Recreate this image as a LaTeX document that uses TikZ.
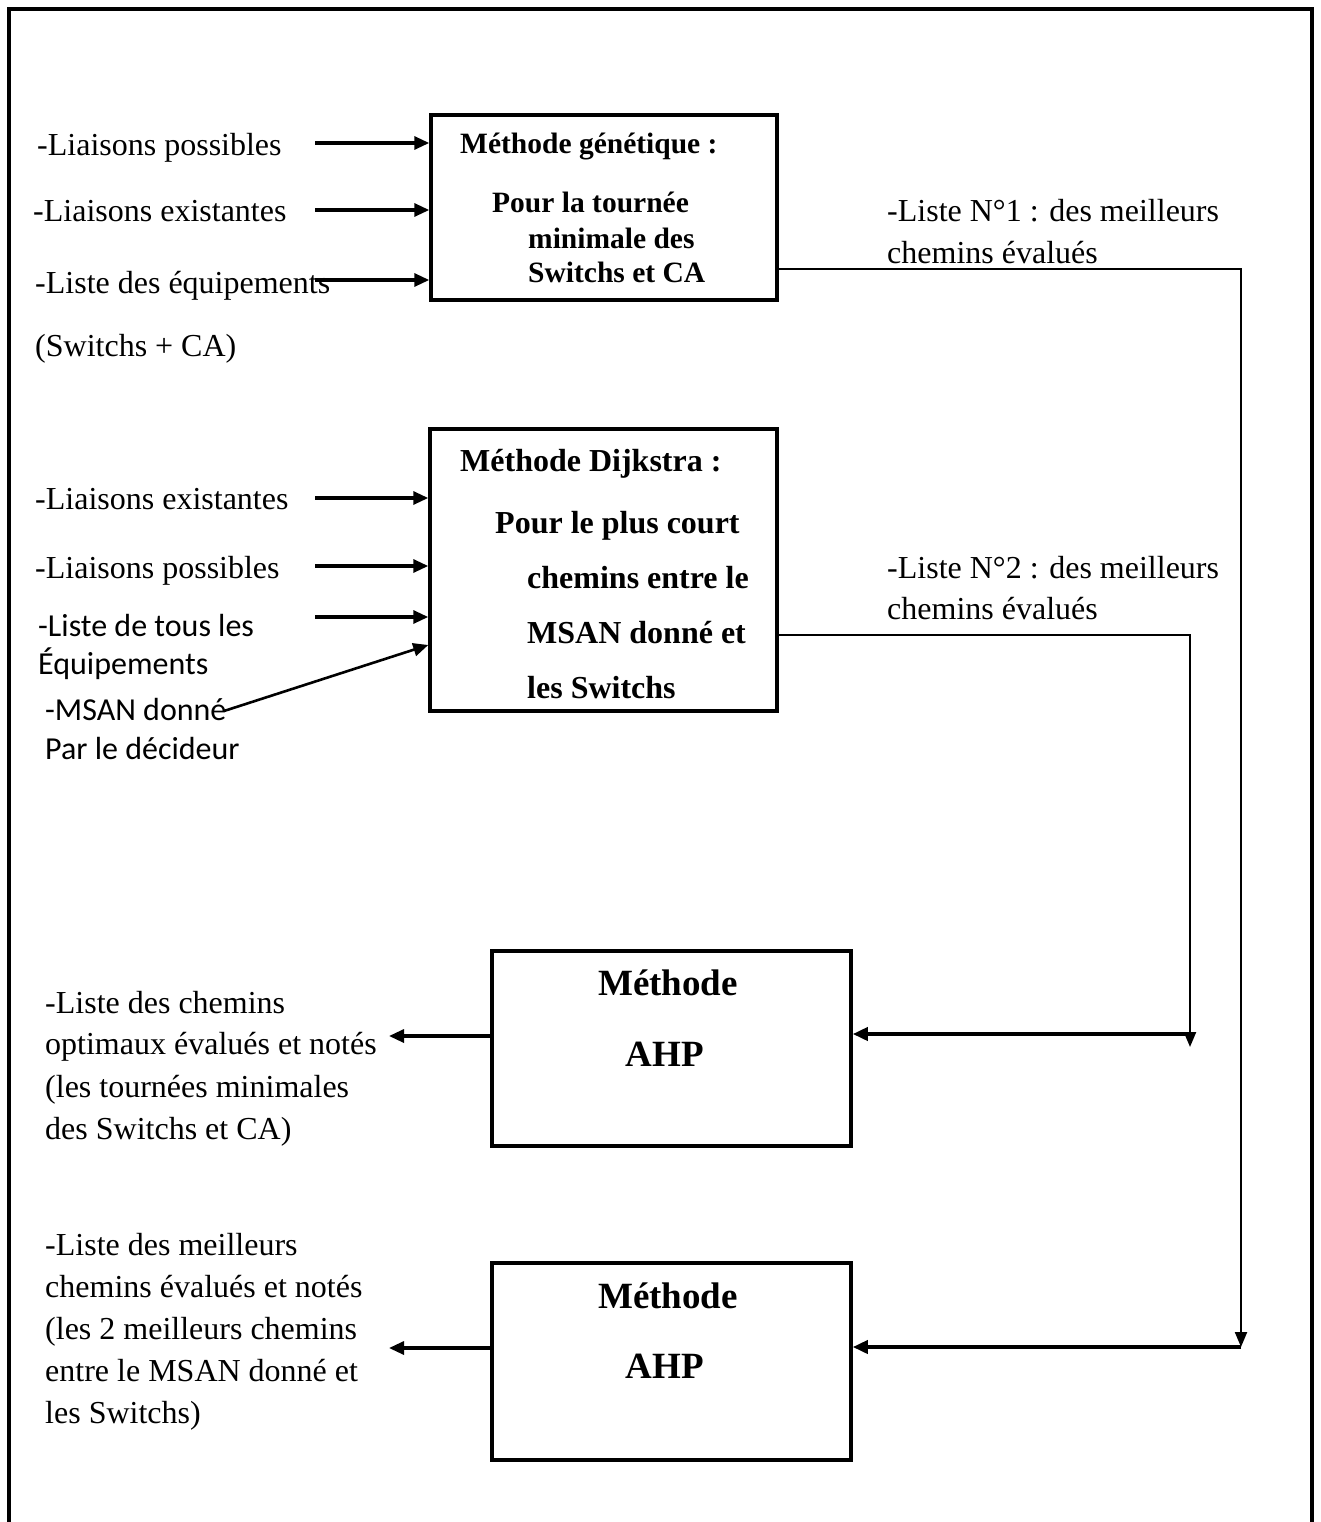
\documentclass[tikz,border=0pt]{standalone}
\usepackage{fontspec}
\setmainfont{Liberation Serif}
\newfontfamily\calfont{Carlito}
\usetikzlibrary{arrows.meta}

\tikzset{
  box/.style={draw=black, line width=3.5pt, inner sep=0pt, fill=white},
  lab/.style={anchor=base west, inner sep=0pt, font=\fontsize{32}{38}\selectfont},
  labsans/.style={anchor=base west, inner sep=0pt, font=\calfont\fontsize{32}{38}\selectfont},
  boxtxt/.style={anchor=base west, inner sep=0pt, font=\bfseries\fontsize{32}{38}\selectfont},
  boxtxtsmall/.style={anchor=base west, inner sep=0pt, font=\bfseries\fontsize{29.5}{35}\selectfont},
  ahptxt/.style={anchor=base, inner sep=0pt, font=\bfseries\fontsize{37}{42}\selectfont},
  arr/.style={line width=3.2pt, -{Triangle[length=15pt,width=13pt]}},
  thickarr/.style={line width=3.6pt, -{Triangle[length=15pt,width=13pt]}},
  thinarr/.style={line width=2.2pt, -{Triangle[length=15pt,width=12pt]}},
}

\begin{document}
\begin{tikzpicture}[x=1pt, y=-1pt]
\useasboundingbox (0,0) rectangle (1320,1522);
\fill[white] (0,0) rectangle (1320,1522);

% page frame (open at the bottom)
\draw[line width=3.2pt] (9,1522) -- (9,9) -- (1312,9) -- (1312,1522);

% method boxes
\node[box, minimum width=346pt, minimum height=185pt] (gen) at (604,207.5) {};
\node[box, minimum width=347pt, minimum height=282pt] (dij) at (603.5,570) {};
\node[box, minimum width=359pt, minimum height=195pt] (ahpA) at (671.5,1048.5) {};
\node[box, minimum width=359pt, minimum height=197pt] (ahpB) at (671.5,1361.5) {};

% genetic method box text
\node[boxtxtsmall] (g1) at (460,154) {Méthode génétique :};
\node[boxtxtsmall] (g2) at (492,213) {Pour la tournée};
\node[boxtxtsmall] (g3) at (528,248) {minimale des};
\node[boxtxtsmall] (g4) at (528,283) {Switchs et CA};

% Dijkstra method box text
\node[boxtxt] (d1) at (460,471) {Méthode Dijkstra :};
\node[boxtxt] (d2) at (495,533) {Pour le plus court};
\node[boxtxt] (d3) at (527,588) {chemins entre le};
\node[boxtxt] (d4) at (527,643) {MSAN donné et};
\node[boxtxt] (d5) at (527,698) {les Switchs};

% AHP boxes text
\node[ahptxt] (a1) at (668,995) {Méthode};
\node[ahptxt] (a2) at (665,1066) {AHP};
\node[ahptxt] (b1) at (668,1308) {Méthode};
\node[ahptxt] (b2) at (665,1378) {AHP};

% inputs of the genetic method
\node[lab] (in1) at (37,156) {-Liaisons possibles};
\node[lab] (in2) at (33,222) {-Liaisons existantes};
\node[lab] (in3) at (35,293) {-Liste des équipements};
\node[lab] (in4) at (35,356) {(Switchs + CA)};

\coordinate (s1) at (315,143);
\coordinate (s2) at (315,210);
\coordinate (s3) at (315,280);
\draw[arr] (s1) -- (s1 -| gen.west);
\draw[arr] (s2) -- (s2 -| gen.west);
\draw[arr] (s3) -- (s3 -| gen.west);

% inputs of the Dijkstra method
\node[lab] (j1) at (35,509) {-Liaisons existantes};
\node[lab] (j2) at (35,578) {-Liaisons possibles};
\node[labsans] (j3) at (38,636) {-Liste de tous les};
\node[labsans] (j4) at (38,674) {Équipements};
\node[labsans] (j5) at (45,720) {-MSAN donné};
\node[labsans] (j6) at (45,759) {Par le décideur};

\coordinate (t1) at (315,498);
\coordinate (t2) at (315,566);
\coordinate (t3) at (315,617);
\coordinate (t4) at (224,711);
\coordinate (t4e) at (0,645);
\draw[arr] (t1) -- (t1 -| dij.west);
\draw[arr] (t2) -- (t2 -| dij.west);
\draw[arr] (t3) -- (t3 -| dij.west);
\draw[line width=2.6pt, -{Triangle[length=15pt,width=13pt]}] (t4) -- (t4e -| dij.west);

% result lists
\node[lab] (l1a) at (887,222) {-Liste N°1 : des meilleurs};
\node[lab] (l1b) at (887,263) {chemins évalués};
\node[lab] (l2a) at (887,578) {-Liste N°2 : des meilleurs};
\node[lab] (l2b) at (887,619) {chemins évalués};

% list 1 goes to the second AHP box
\coordinate (r1) at (1241,269);
\coordinate (c1) at (1241,1347);
\draw[thinarr] (r1 -| gen.east) -- (r1) -- (c1);
\draw[thickarr] (c1) -- (c1 -| ahpB.east);

% list 2 goes to the first AHP box
\coordinate (r2) at (1190,635);
\coordinate (c2) at (1190,1047);
\coordinate (k2) at (1190,1034);
\draw[thinarr] (r2 -| dij.east) -- (r2) -- (c2);
\draw[thickarr] (k2) -- (k2 -| ahpA.east);

% outputs of the AHP boxes
\coordinate (o1) at (389,1036);
\coordinate (o2) at (389,1348);
\draw[arr] (o1 -| ahpA.west) -- (o1);
\draw[arr] (o2 -| ahpB.west) -- (o2);

\node[lab] (p1) at (45,1013) {-Liste des chemins};
\node[lab] (p2) at (45,1054) {optimaux évalués et notés};
\node[lab] (p3) at (45,1097) {(les tournées minimales};
\node[lab] (p4) at (45,1139) {des Switchs et CA)};

\node[lab] (q1) at (45,1255) {-Liste des meilleurs};
\node[lab] (q2) at (45,1297) {chemins évalués et notés};
\node[lab] (q3) at (45,1339) {(les 2 meilleurs chemins};
\node[lab] (q4) at (45,1381) {entre le MSAN donné et};
\node[lab] (q5) at (45,1423) {les Switchs)};
\end{tikzpicture}
\end{document}
